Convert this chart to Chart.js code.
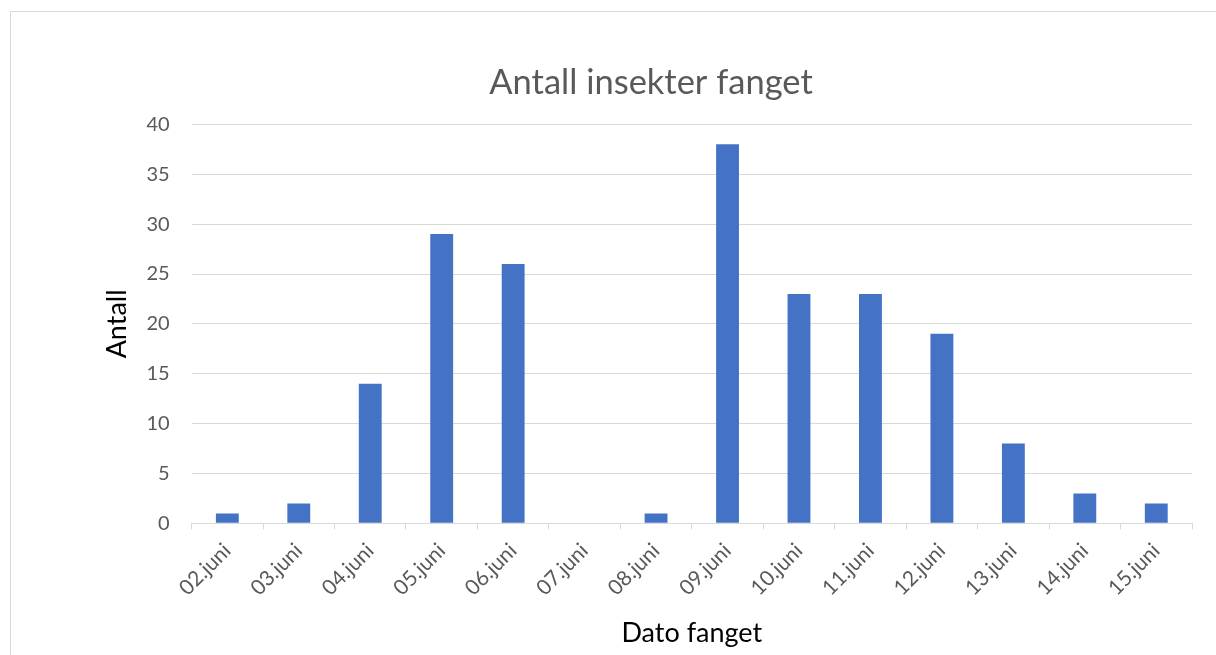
<!DOCTYPE html>
<html>
<head>
<meta charset="utf-8">
<script src="https://cdn.jsdelivr.net/npm/chart.js@4/dist/chart.umd.min.js"></script>
<style>
  body { margin: 0; background: #fff; overflow: hidden; }
  #frame { position: absolute; left: 10px; top: 11px; width: 1400px; height: 900px; border: 1px solid #d9d9d9; }
  #wrap { position: absolute; left: 0; top: 0; width: 1216px; height: 655px; }
</style>
</head>
<body>
<div id="frame"></div>
<div id="wrap"><canvas id="chart"></canvas></div>
<script>
let labels = ["02.juni", "03.juni", "04.juni", "05.juni", "06.juni", "07.juni", "08.juni",
  "09.juni", "10.juni", "11.juni", "12.juni", "13.juni", "14.juni", "15.juni"];
let antall = [1, 2, 14, 29, 26, 0, 1, 38, 23, 23, 19, 8, 3, 2];
let yMax = 40;
let yStep = 5;

renderChart();

function renderChart() {
  let ctx = document.querySelector("#chart");
  let chart = new Chart(ctx, {
    type: "bar",
    data: {
      labels: labels,
      datasets: [
        {
          label: "Antall",
          data: antall,
          backgroundColor: "#4472C4",
          borderWidth: 0,
          categoryPercentage: 1,
          barPercentage: 0.32,
        },
      ],
    },
    options: {
      responsive: true,
      maintainAspectRatio: false,
      animation: false,
      layout: { padding: { left: 110, right: 24, top: 0, bottom: 6 } },
      plugins: {
        legend: { display: false },
        tooltip: { enabled: false },
        title: {
          display: true,
          text: "Antall insekter fanget",
          color: "#595959",
          font: { family: "Lato", size: 34.5, weight: "normal" },
          padding: { top: 62, bottom: 21 },
        },
      },
      scales: {
        x: {
          grid: {
            offset: true,
            drawOnChartArea: false,
            drawTicks: true,
            tickLength: 6,
            color: "#d9d9d9",
          },
          border: { display: true, color: "#d9d9d9" },
          ticks: {
            color: "#595959",
            font: { family: "Lato", size: 21 },
            minRotation: 45,
            maxRotation: 45,
            padding: 9,
          },
          title: {
            display: true,
            text: "Dato fanget",
            color: "#000",
            font: { family: "Lato", size: 27 },
            padding: { top: 7, bottom: 0 },
          },
        },
        y: {
          min: 0,
          max: yMax,
          grid: { color: "#d9d9d9", drawTicks: false },
          border: { display: false },
          ticks: {
            stepSize: yStep,
            color: "#595959",
            font: { family: "Lato", size: 20 },
            padding: 22,
          },
          title: {
            display: true,
            text: "Antall",
            color: "#000",
            font: { family: "Lato", size: 27 },
            padding: { top: -9, bottom: -9 },
          },
        },
      },
    },
  });
}
</script>
</body>
</html>
